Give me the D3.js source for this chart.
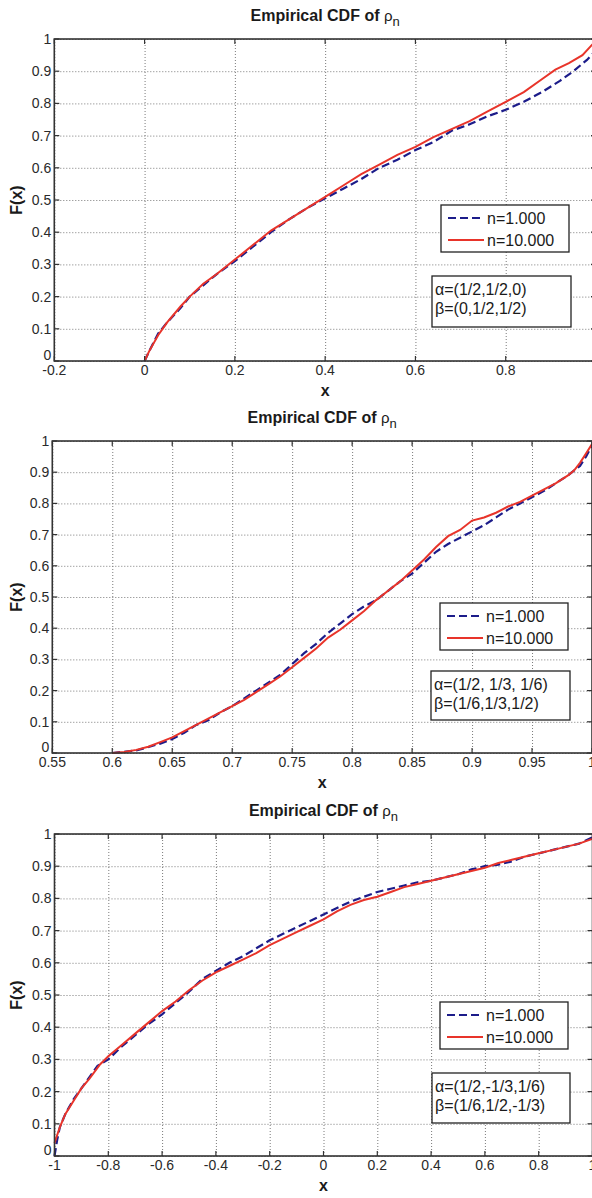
<!DOCTYPE html>
<html>
<head>
<meta charset="utf-8">
<script src="https://cdn.jsdelivr.net/npm/d3@7"></script>
<style>
  html, body { margin: 0; padding: 0; background: #fff; overflow: hidden; }
  svg { display: block; font-family: "Liberation Sans", Arial, sans-serif; }
</style>
</head>
<body>
<div id="chart"></div>
<script>
// ---- data ----
const yTicks = [0, 0.1, 0.2, 0.3, 0.4, 0.5, 0.6, 0.7, 0.8, 0.9, 1];
const legendLabels = ['n=1.000', 'n=10.000'];

// panel 1
const p1XTicks = [-0.2, 0, 0.2, 0.4, 0.6, 0.8, 1];
const p1Params = ['α=(1/2,1/2,0)', 'β=(0,1/2,1/2)'];
const p1Blue = [[0,0],[0.01,0.03],[0.03,0.085],[0.05,0.12],[0.08,0.165],[0.1,0.2],[0.13,0.235],[0.16,0.27],
  [0.2,0.31],[0.24,0.355],[0.28,0.4],[0.32,0.44],[0.36,0.475],[0.4,0.505],[0.44,0.535],[0.48,0.565],
  [0.52,0.6],[0.56,0.625],[0.6,0.655],[0.64,0.68],[0.68,0.715],[0.72,0.735],[0.76,0.76],[0.8,0.78],
  [0.84,0.805],[0.88,0.835],[0.92,0.87],[0.95,0.9],[0.98,0.935],[1,0.965]];
const p1Red = [[0,0],[0.01,0.03],[0.03,0.08],[0.05,0.12],[0.08,0.17],[0.1,0.2],[0.13,0.24],[0.16,0.27],
  [0.2,0.315],[0.24,0.36],[0.28,0.405],[0.32,0.44],[0.36,0.475],[0.4,0.51],[0.44,0.545],[0.48,0.58],
  [0.52,0.61],[0.56,0.64],[0.6,0.665],[0.64,0.695],[0.68,0.72],[0.72,0.745],[0.76,0.775],[0.8,0.805],
  [0.84,0.835],[0.88,0.875],[0.91,0.905],[0.94,0.925],[0.97,0.95],[0.99,0.98],[1,0.995]];

// panel 2
const p2XTicks = [0.55, 0.6, 0.65, 0.7, 0.75, 0.8, 0.85, 0.9, 0.95, 1];
const p2Params = ['α=(1/2, 1/3, 1/6)', 'β=(1/6,1/3,1/2)'];
const p2Blue = [[0.6,0],[0.62,0.008],[0.64,0.03],[0.65,0.045],[0.66,0.065],[0.67,0.09],[0.68,0.105],[0.69,0.13],
  [0.7,0.15],[0.72,0.2],[0.74,0.25],[0.75,0.285],[0.76,0.32],[0.77,0.35],[0.78,0.385],[0.79,0.415],
  [0.8,0.445],[0.81,0.47],[0.82,0.49],[0.83,0.52],[0.84,0.55],[0.85,0.575],[0.86,0.61],[0.87,0.645],
  [0.88,0.67],[0.89,0.69],[0.9,0.71],[0.91,0.73],[0.92,0.755],[0.93,0.78],[0.94,0.8],[0.95,0.82],
  [0.96,0.84],[0.97,0.865],[0.98,0.89],[0.99,0.92],[0.995,0.95],[1,0.985]];
const p2Red = [[0.6,0],[0.61,0.003],[0.62,0.01],[0.63,0.02],[0.64,0.035],[0.65,0.05],[0.66,0.07],[0.67,0.09],
  [0.68,0.11],[0.69,0.13],[0.7,0.15],[0.71,0.17],[0.72,0.195],[0.73,0.22],[0.74,0.245],[0.75,0.275],
  [0.76,0.305],[0.77,0.335],[0.78,0.37],[0.79,0.395],[0.8,0.425],[0.81,0.455],[0.82,0.49],[0.83,0.52],
  [0.84,0.55],[0.85,0.585],[0.86,0.62],[0.87,0.66],[0.88,0.695],[0.89,0.715],[0.9,0.745],[0.91,0.755],
  [0.92,0.77],[0.93,0.79],[0.94,0.805],[0.95,0.825],[0.96,0.845],[0.97,0.865],[0.98,0.89],[0.985,0.905],
  [0.99,0.93],[0.995,0.96],[1,0.99]];

// panel 3
const p3XTicks = [-1, -0.8, -0.6, -0.4, -0.2, 0, 0.2, 0.4, 0.6, 0.8, 1];
const p3Params = ['α=(1/2,-1/3,1/6)', 'β=(1/6,1/2,-1/3)'];
const p3Blue = [[-1,0],[-0.99,0.05],[-0.98,0.09],[-0.96,0.13],[-0.93,0.175],[-0.9,0.21],[-0.87,0.245],[-0.84,0.28],
  [-0.8,0.3],[-0.75,0.34],[-0.7,0.375],[-0.65,0.41],[-0.6,0.44],[-0.55,0.475],[-0.5,0.51],[-0.45,0.55],
  [-0.4,0.575],[-0.35,0.6],[-0.3,0.62],[-0.25,0.645],[-0.2,0.67],[-0.15,0.69],[-0.1,0.71],[-0.05,0.73],
  [0,0.75],[0.05,0.77],[0.1,0.79],[0.15,0.805],[0.2,0.82],[0.25,0.83],[0.3,0.84],[0.35,0.85],
  [0.4,0.855],[0.45,0.865],[0.5,0.875],[0.55,0.89],[0.6,0.9],[0.65,0.905],[0.7,0.915],[0.75,0.93],
  [0.8,0.94],[0.85,0.95],[0.9,0.96],[0.95,0.97],[1,0.99]];
const p3Red = [[-1,0.04],[-0.98,0.09],[-0.96,0.13],[-0.93,0.17],[-0.9,0.21],[-0.87,0.24],[-0.83,0.285],[-0.8,0.31],
  [-0.75,0.345],[-0.7,0.38],[-0.65,0.415],[-0.6,0.45],[-0.55,0.48],[-0.5,0.515],[-0.45,0.545],[-0.4,0.57],
  [-0.35,0.59],[-0.3,0.61],[-0.25,0.63],[-0.2,0.655],[-0.15,0.675],[-0.1,0.695],[-0.05,0.715],[0,0.735],
  [0.05,0.76],[0.1,0.78],[0.15,0.795],[0.2,0.805],[0.25,0.82],[0.3,0.835],[0.35,0.845],[0.4,0.855],
  [0.45,0.865],[0.5,0.875],[0.55,0.885],[0.6,0.895],[0.65,0.91],[0.7,0.92],[0.75,0.93],[0.8,0.94],
  [0.85,0.95],[0.9,0.96],[0.95,0.97],[1,0.985]];

// ---- layout ----
const width = 592;
const height = 1198;
const blueColor = '#1c1c8a';
const redColor = '#e8342a';
const textColor = '#1a1a1a';

const panels = [
  { top: 39, bottom: 361, left: 54.3, right: 596, xTicks: p1XTicks, blue: p1Blue, red: p1Red, params: p1Params,
    legend: [441, 205, 569, 252], paramBox: [432, 276, 571, 327] },
  { top: 441, bottom: 753, left: 52.3, right: 592, xTicks: p2XTicks, blue: p2Blue, red: p2Red, params: p2Params,
    legend: [440, 603, 568, 650], paramBox: [431, 671, 570, 720] },
  { top: 834, bottom: 1156, left: 54.5, right: 592.5, xTicks: p3XTicks, blue: p3Blue, red: p3Red, params: p3Params,
    legend: [440, 1002, 568, 1049], paramBox: [432, 1073, 570, 1123] },
];

const svg = d3.select('#chart')
  .append('svg')
  .attr('width', width)
  .attr('height', height);

function drawPanel(p) {
  const xScale = d3.scaleLinear()
    .domain([p.xTicks[0], p.xTicks[p.xTicks.length - 1]])
    .range([p.left, p.right]);
  const yScale = d3.scaleLinear().domain([0, 1]).range([p.bottom, p.top]);
  const w = p.right - p.left;
  const h = p.bottom - p.top;

  const g = svg.append('g');

  // dotted grid
  g.append('g')
    .attr('transform', `translate(0, ${p.bottom})`)
    .call(d3.axisBottom(xScale).tickValues(p.xTicks).tickFormat('').tickSize(-h).tickSizeOuter(0))
    .call(s => s.select('.domain').remove())
    .call(s => s.selectAll('line').attr('stroke', '#7a7a7a').attr('stroke-dasharray', '1,2'));
  g.append('g')
    .attr('transform', `translate(${p.left}, 0)`)
    .call(d3.axisLeft(yScale).tickValues(yTicks).tickFormat('').tickSize(-w).tickSizeOuter(0))
    .call(s => s.select('.domain').remove())
    .call(s => s.selectAll('line').attr('stroke', '#7a7a7a').attr('stroke-dasharray', '1,2'));

  // curves
  const line = d3.line().x(d => xScale(d[0])).y(d => yScale(d[1]));
  g.append('path').datum(p.blue)
    .attr('d', line).attr('fill', 'none')
    .attr('stroke', blueColor).attr('stroke-width', 2.2)
    .attr('stroke-dasharray', '8,4');
  g.append('path').datum(p.red)
    .attr('d', line).attr('fill', 'none')
    .attr('stroke', redColor).attr('stroke-width', 2);

  // inner ticks on all sides, box
  const axisColor = '#333';
  const tickLen = 5;
  const tk = g.append('g').attr('stroke', axisColor).attr('stroke-width', 1.2);
  p.xTicks.forEach(v => {
    tk.append('line').attr('x1', xScale(v)).attr('x2', xScale(v)).attr('y1', p.bottom).attr('y2', p.bottom - tickLen);
    tk.append('line').attr('x1', xScale(v)).attr('x2', xScale(v)).attr('y1', p.top).attr('y2', p.top + tickLen);
  });
  yTicks.forEach(v => {
    tk.append('line').attr('x1', p.left).attr('x2', p.left + tickLen).attr('y1', yScale(v)).attr('y2', yScale(v));
    tk.append('line').attr('x1', p.right).attr('x2', p.right - tickLen).attr('y1', yScale(v)).attr('y2', yScale(v));
  });
  g.append('rect')
    .attr('x', p.left).attr('y', p.top).attr('width', w).attr('height', h)
    .attr('fill', 'none').attr('stroke', axisColor).attr('stroke-width', 1.6);

  // tick labels
  g.append('g').selectAll('text').data(p.xTicks).join('text')
    .attr('x', d => xScale(d)).attr('y', p.bottom + 14)
    .attr('text-anchor', 'middle').attr('font-size', 14).attr('fill', '#2a2a2a')
    .text(d => String(d));
  g.append('g').selectAll('text').data(yTicks).join('text')
    .attr('x', p.left - 3).attr('y', d => d === 0 ? yScale(d) - 1 : yScale(d) + 5)
    .attr('text-anchor', 'end').attr('font-size', 14).attr('fill', '#2a2a2a')
    .text(d => String(d));

  // axis labels
  g.append('text')
    .attr('x', (p.left + p.right) / 2).attr('y', p.bottom + 35)
    .attr('text-anchor', 'middle').attr('font-size', 16).attr('font-weight', 'bold').attr('fill', textColor)
    .text('x');
  g.append('text')
    .attr('transform', `translate(22, ${(p.top + p.bottom) / 2}) rotate(-90)`)
    .attr('text-anchor', 'middle').attr('font-size', 16).attr('font-weight', 'bold').attr('fill', textColor)
    .text('F(x)');

  // title
  const title = g.append('text')
    .attr('x', (p.left + p.right) / 2).attr('y', p.top - 18)
    .attr('text-anchor', 'middle').attr('font-size', 16).attr('font-weight', 'bold').attr('fill', textColor);
  title.append('tspan').text('Empirical CDF of ');
  title.append('tspan').attr('font-weight', 'normal').attr('font-size', 15).text('ρ');
  title.append('tspan').attr('font-weight', 'normal').attr('font-size', 13).attr('dy', 5).text('n');

  // legend
  const [lx0, ly0, lx1, ly1] = p.legend;
  g.append('rect').attr('x', lx0).attr('y', ly0).attr('width', lx1 - lx0).attr('height', ly1 - ly0)
    .attr('fill', '#fff').attr('stroke', '#222').attr('stroke-width', 1.3);
  const rows = [
    { label: legendLabels[0], color: blueColor, dash: '8,4', cy: ly0 + 13 },
    { label: legendLabels[1], color: redColor, dash: null, cy: ly0 + 35 },
  ];
  rows.forEach(r => {
    g.append('line')
      .attr('x1', lx0 + 7).attr('x2', lx0 + 43).attr('y1', r.cy).attr('y2', r.cy)
      .attr('stroke', r.color).attr('stroke-width', 2)
      .attr('stroke-dasharray', r.dash);
    g.append('text')
      .attr('x', lx0 + 46).attr('y', r.cy + 6)
      .attr('font-size', 16).attr('fill', textColor)
      .text(r.label);
  });

  // parameter box
  const [px0, py0, px1, py1] = p.paramBox;
  g.append('rect').attr('x', px0).attr('y', py0).attr('width', px1 - px0).attr('height', py1 - py0)
    .attr('fill', '#fff').attr('stroke', '#222').attr('stroke-width', 1.3);
  p.params.forEach((t, i) => {
    g.append('text')
      .attr('x', px0 + 3).attr('y', py0 + 19 + i * 19)
      .attr('font-size', 16).attr('fill', textColor)
      .text(t);
  });
}

panels.forEach(drawPanel);
</script>
</body>
</html>
